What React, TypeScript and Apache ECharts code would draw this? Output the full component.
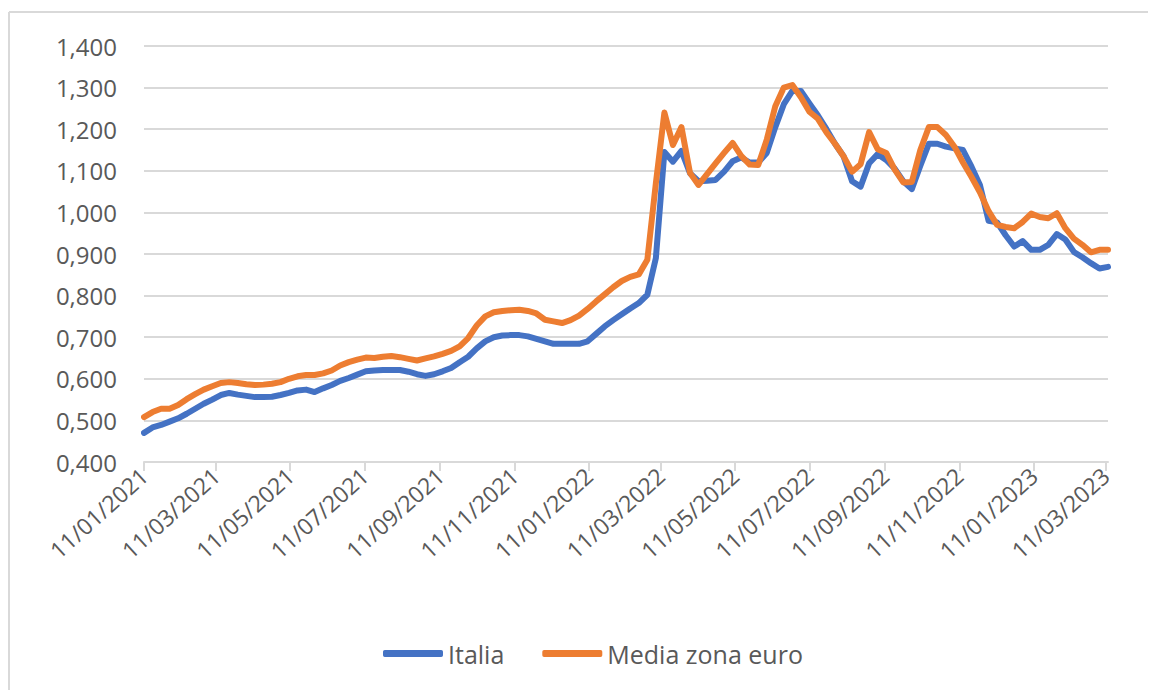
import React, { useEffect, useRef } from "react";
import * as echarts from "echarts";

const FIRST_WEEK = "11/01/2021";
const WEEK_COUNT = 114;

const tickLabels = [
  "11/01/2021", "11/03/2021", "11/05/2021", "11/07/2021", "11/09/2021", "11/11/2021",
  "11/01/2022", "11/03/2022", "11/05/2022", "11/07/2022", "11/09/2022", "11/11/2022",
  "11/01/2023", "11/03/2023",
];

const yTicks = [0.4, 0.5, 0.6, 0.7, 0.8, 0.9, 1.0, 1.1, 1.2, 1.3, 1.4];

const italia = [
  0.470, 0.483, 0.489, 0.497, 0.505, 0.516, 0.528, 0.540, 0.550, 0.561,
  0.566, 0.562, 0.559, 0.556, 0.556, 0.557, 0.561, 0.566, 0.572, 0.574,
  0.568, 0.577, 0.585, 0.595, 0.602, 0.610, 0.618, 0.620, 0.621, 0.621,
  0.621, 0.617, 0.611, 0.607, 0.611, 0.618, 0.626, 0.640, 0.653, 0.673,
  0.690, 0.700, 0.704, 0.705, 0.705, 0.702, 0.696, 0.690, 0.684, 0.684,
  0.684, 0.684, 0.690, 0.708, 0.726, 0.741, 0.755, 0.769, 0.782, 0.802,
  0.890, 1.145, 1.122, 1.148, 1.094, 1.075, 1.076, 1.078, 1.098, 1.123,
  1.132, 1.120, 1.120, 1.143, 1.205, 1.260, 1.292, 1.292, 1.262, 1.233,
  1.200, 1.165, 1.135, 1.075, 1.062, 1.118, 1.140, 1.126, 1.105, 1.075,
  1.056, 1.112, 1.165, 1.165, 1.158, 1.154, 1.150, 1.110, 1.065, 0.980,
  0.976, 0.945, 0.918, 0.931, 0.910, 0.910, 0.922, 0.948, 0.935, 0.905,
  0.892, 0.878, 0.865, 0.869,
];

const mediaZonaEuro = [
  0.508, 0.520, 0.528, 0.528, 0.537, 0.551, 0.563, 0.574, 0.582, 0.590,
  0.592, 0.590, 0.587, 0.585, 0.586, 0.588, 0.592, 0.600, 0.606, 0.609,
  0.609, 0.613, 0.620, 0.632, 0.640, 0.646, 0.651, 0.650, 0.653, 0.655,
  0.652, 0.648, 0.644, 0.649, 0.654, 0.660, 0.667, 0.678, 0.698, 0.728,
  0.750, 0.760, 0.763, 0.765, 0.766, 0.763, 0.757, 0.742, 0.738, 0.734,
  0.741, 0.752, 0.768, 0.786, 0.803, 0.820, 0.835, 0.845, 0.851, 0.886,
  1.070, 1.240, 1.162, 1.205, 1.095, 1.066, 1.092, 1.118, 1.143, 1.167,
  1.136, 1.115, 1.114, 1.175, 1.255, 1.300, 1.306, 1.277, 1.242, 1.225,
  1.192, 1.165, 1.135, 1.098, 1.116, 1.193, 1.152, 1.143, 1.103, 1.072,
  1.073, 1.150, 1.205, 1.205, 1.186, 1.158, 1.120, 1.085, 1.048, 1.003,
  0.970, 0.965, 0.962, 0.977, 0.997, 0.989, 0.986, 0.998, 0.962, 0.937,
  0.922, 0.904, 0.910, 0.910,
];

const DAY = 86400000;
function parseDate(s: string): number {
  const [d, m, y] = s.split("/").map(Number);
  return Date.UTC(y, m - 1, d);
}
const origin = parseDate(FIRST_WEEK);
function dayOffset(s: string): number {
  return Math.round((parseDate(s) - origin) / DAY);
}
function fmtDay(v: number): string {
  const dt = new Date(origin + v * DAY);
  const dd = String(dt.getUTCDate()).padStart(2, "0");
  const mm = String(dt.getUTCMonth() + 1).padStart(2, "0");
  return `${dd}/${mm}/${dt.getUTCFullYear()}`;
}
const weekDays = Array.from({ length: WEEK_COUNT }, (_, i) => i * 7);
const tickDays = tickLabels.map(dayOffset);

const FONT = "'Open Sans', 'Liberation Sans', sans-serif";
const TEXT = "#595959";
const GRID = "#d9d9d9";

export default function App() {
  const ref = useRef<HTMLDivElement>(null);
  useEffect(() => {
    if (!ref.current) return;
    const chart = echarts.init(ref.current, undefined, { renderer: "svg" });
    chart.setOption({
      animation: false,
      backgroundColor: "#ffffff",
      textStyle: { fontFamily: FONT },
      graphic: [
        { type: "line", shape: { x1: 1, y1: 4, x2: 1148, y2: 4 }, style: { stroke: GRID, lineWidth: 2 } },
        { type: "line", shape: { x1: 1, y1: 4, x2: 1, y2: 682 }, style: { stroke: GRID, lineWidth: 2 } },
      ],
      grid: { left: 136, right: 48, top: 38, bottom: 228 },
      legend: {
        left: 370,
        top: 628,
        itemWidth: 60,
        itemHeight: 7,
        itemGap: 38,
        icon: "roundRect",
        textStyle: { color: TEXT, fontSize: 25, fontFamily: FONT },
        data: ["Italia", "Media zona euro"],
      },
      xAxis: {
        type: "value",
        min: 0,
        max: weekDays[weekDays.length - 1],
        axisLine: { show: true, lineStyle: { color: GRID, width: 2 } },
        axisTick: { show: true, customValues: tickDays, length: 9, lineStyle: { color: GRID, width: 2 } },
        axisLabel: {
          customValues: tickDays,
          formatter: (v: number) => fmtDay(v),
          rotate: 42,
          color: TEXT,
          fontSize: 23,
          fontFamily: FONT,
          margin: 10,
        },
        splitLine: { show: false },
      },
      yAxis: {
        type: "value",
        min: yTicks[0],
        max: yTicks[yTicks.length - 1],
        interval: 0.1,
        axisLine: { show: false },
        axisTick: { show: false },
        axisLabel: {
          color: TEXT,
          fontSize: 24,
          fontFamily: FONT,
          margin: 27,
          formatter: (v: number) => v.toFixed(3).replace(".", ","),
        },
        splitLine: { lineStyle: { color: GRID, width: 2 } },
      },
      series: [
        {
          name: "Italia",
          type: "line",
          data: weekDays.map((d, i) => [d, italia[i]]),
          showSymbol: false,
          symbol: "none",
          lineStyle: { color: "#4472c4", width: 6, join: "round", cap: "round" },
          itemStyle: { color: "#4472c4" },
        },
        {
          name: "Media zona euro",
          type: "line",
          data: weekDays.map((d, i) => [d, mediaZonaEuro[i]]),
          showSymbol: false,
          symbol: "none",
          lineStyle: { color: "#ed7d31", width: 6, join: "round", cap: "round" },
          itemStyle: { color: "#ed7d31" },
        },
      ],
    });
    return () => chart.dispose();
  }, []);
  return <div ref={ref} style={{ width: 1148, height: 682 }} />;
}
